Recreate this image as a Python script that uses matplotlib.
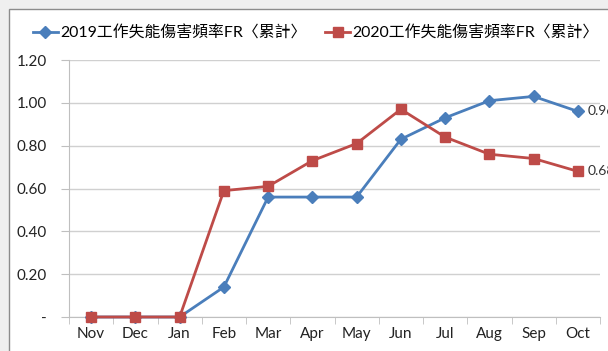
import matplotlib
matplotlib.use("Agg")
import matplotlib.pyplot as plt
from matplotlib.patches import Rectangle

months = ["Nov", "Dec", "Jan", "Feb", "Mar", "Apr", "May", "Jun", "Jul", "Aug", "Sep", "Oct"]
fr2019 = [0, 0, 0, 0.14, 0.56, 0.56, 0.56, 0.83, 0.93, 1.01, 1.03, 0.96]
fr2020 = [0, 0, 0, 0.59, 0.61, 0.73, 0.81, 0.97, 0.84, 0.76, 0.74, 0.68]
label2019 = "2019工作失能傷害頻率FR〈累計〉"
label2020 = "2020工作失能傷害頻率FR〈累計〉"
yticks = [0, 0.2, 0.4, 0.6, 0.8, 1.0, 1.2]
ytick_labels = ["-", "0.20", "0.40", "0.60", "0.80", "1.00", "1.20"]

plt.rcParams["font.family"] = ["Lato", "Noto Sans CJK TC", "DejaVu Sans"]

blue = "#4a7ebb"
red = "#be4b48"

fig = plt.figure(figsize=(6.08, 3.51), dpi=100, facecolor="#efefef")
# white chart area with a thin frame on the left and top
fig.patches.append(Rectangle((9 / 608, -0.1), 1.2, 1.1 - 9 / 351, transform=fig.transFigure,
                             facecolor="white", edgecolor="#8c8c8c", linewidth=1, zorder=-5))

ax = fig.add_axes([69 / 608, 1 - 317 / 351, (600 - 69) / 608, (317 - 60) / 351])
ax.set_facecolor("none")

x = list(range(len(months)))
l1, = ax.plot(x, fr2019, color=blue, linewidth=2, marker="D", markersize=6,
              markerfacecolor=blue, markeredgecolor=blue, clip_on=False, zorder=3)
l2, = ax.plot(x, fr2020, color=red, linewidth=2, marker="s", markersize=7,
              markerfacecolor=red, markeredgecolor=red, clip_on=False, zorder=4)

# value labels at the last month
ax.annotate("%.2f" % fr2019[-1], (x[-1], fr2019[-1]), xytext=(7, 0), textcoords="offset points",
            va="center", ha="left", fontsize=10, color="#333333", annotation_clip=False)
ax.annotate("%.2f" % fr2020[-1], (x[-1], fr2020[-1]), xytext=(7, 0), textcoords="offset points",
            va="center", ha="left", fontsize=10, color="#333333", annotation_clip=False)

ax.set_xlim(-0.5, len(months) - 0.5)
ax.set_ylim(0, 1.2)
ax.set_yticks(yticks)
ax.set_yticklabels(ytick_labels)
ax.set_xticks(x)
ax.set_xticklabels(months)
ax.set_xticks([i - 0.5 for i in range(len(months) + 1)], minor=True)

ax.grid(axis="y", color="#d0d0d0", linewidth=1)
ax.set_axisbelow(True)
for side in ["top", "right"]:
    ax.spines[side].set_visible(False)
ax.spines["left"].set_color("#bfbfbf")
ax.spines["bottom"].set_color("#bfbfbf")

ax.tick_params(axis="y", length=6, color="#bfbfbf", labelsize=11, pad=10, labelcolor="#222222")
ax.tick_params(axis="x", which="major", length=0, labelsize=11, pad=7, labelcolor="#222222")
ax.tick_params(axis="x", which="minor", length=5, color="#bfbfbf")

fig.legend([l1, l2], [label2019, label2020], loc="center left", bbox_to_anchor=(33 / 608, 1 - 33 / 351),
           ncol=2, frameon=False, fontsize=11.4, handlelength=1.55, handletextpad=0.15,
           columnspacing=1.2, borderaxespad=0, borderpad=0)

fig.savefig("out.png", dpi=100, facecolor=fig.get_facecolor())
